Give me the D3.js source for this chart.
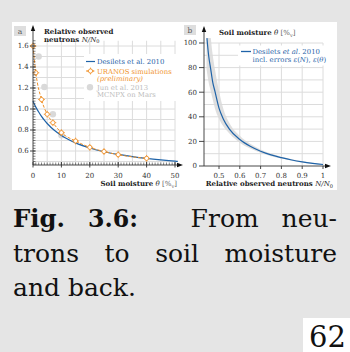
<!DOCTYPE html>
<html><head><meta charset="utf-8">
<script src="https://cdn.jsdelivr.net/npm/d3@7"></script>
<style>
html,body{margin:0;padding:0;background:#e5e5e5;}
svg{display:block;}
</style></head><body>
<svg id="c" width="350" height="352"></svg>
<script>
// ---------- data ----------
// Panel a: Desilets et al. 2010 curve
const desTheta = [0, 1, 2, 3, 4, 5, 7.5, 10, 12.5, 15, 20, 25, 30, 35, 40, 45, 50, 51];
const desN     = [1.075, 1.018, 0.971, 0.929, 0.893, 0.862, 0.797, 0.748, 0.709, 0.677, 0.629, 0.593, 0.567, 0.546, 0.529, 0.515, 0.503, 0.501];
// Panel a: URANOS simulations (preliminary)
const uranosTheta = [0, 1, 3, 5, 7, 10, 15, 20, 25, 30, 40];
const uranosN     = [1.60, 1.345, 1.09, 0.95, 0.87, 0.775, 0.695, 0.635, 0.595, 0.565, 0.53];
// Panel a: Jun et al. 2013 MCNPX on Mars
const junTheta = [2, 4, 7, 10];
const junN     = [1.50, 1.21, 0.95, 0.75];
// Panel b: soil moisture from relative neutrons, with error band
const bN      = [0.442, 0.45, 0.46, 0.47, 0.48, 0.50, 0.52, 0.55, 0.60, 0.65, 0.70, 0.75, 0.80, 0.85, 0.90, 0.95, 1.00];
const bTheta  = [104, 90, 79, 68, 61, 47, 38.5, 30, 21.5, 16, 12, 9, 6.8, 4.9, 3.4, 2.2, 1.2];
const bandN   = [0.44, 0.45, 0.46, 0.47, 0.48, 0.50, 0.52, 0.55, 0.60, 0.65, 0.70, 0.75, 0.80, 0.85, 0.90, 0.95, 1.00];
const bandUp  = [140, 125, 105, 90, 79, 61, 47, 35, 24.5, 18, 13.5, 10.2, 7.6, 5.5, 3.9, 2.6, 1.6];
const bandLo  = [79, 68, 61, 54, 47, 38.5, 32.5, 26.5, 19, 14.3, 10.8, 8.0, 6.0, 4.3, 2.9, 1.8, 0.9];
// ticks
const aXTicks = [0, 10, 20, 30, 40, 50];
const aYTicks = [0.6, 0.8, 1.0, 1.2, 1.4, 1.6];
const bXTicks = [0.5, 0.6, 0.7, 0.8, 0.9, 1.0];
const bXLabels = ["0.5", "0.6", "0.7", "0.8", "0.9", "1"];
const bYTicks = [0, 20, 40, 60, 80, 100];

// ---------- styles ----------
const BLUE = "#1f63a8", ORANGE = "#f0922b", GRAYDOT = "#d9d9d9", GRID = "#dcdcdc", AX = "#333";
const FONT = "'DejaVu Serif', serif";
const FS = 7;      // small chart text
const FSL = 6.9;   // legend text

const svg = d3.select("#c");
svg.append("rect").attr("x", 0).attr("y", 0).attr("width", 350).attr("height", 352).attr("fill", "#e5e5e5");
svg.append("rect").attr("x", 12).attr("y", 22).attr("width", 325).attr("height", 168).attr("fill", "#fff");

// ---------- scales ----------
const xA = d3.scaleLinear().domain([0, 50]).range([33, 175]);
const yA = d3.scaleLinear().domain([0.6, 1.6]).range([151, 46]);
const xB = d3.scaleLinear().domain([0.5, 1.0]).range([219, 323]);
const yB = d3.scaleLinear().domain([0, 100]).range([166, 43]);

function arrowUp(g, x, y) { g.append("path").attr("d", `M${x},${y} L${x-2.2},${y+6} L${x+2.2},${y+6} Z`).attr("fill", "#111"); }
function arrowRight(g, x, y) { g.append("path").attr("d", `M${x},${y} L${x-6},${y-2.2} L${x-6},${y+2.2} Z`).attr("fill", "#111"); }

// ================= Panel a =================
const gA = svg.append("g");
const aGridX = d3.range(5, 50.1, 5);
const aGridY = d3.range(0.5, 1.61, 0.1);
gA.selectAll(".gx").data(aGridX).join("line")
  .attr("x1", d => xA(d)).attr("x2", d => xA(d)).attr("y1", yA(0.467)).attr("y2", yA(1.65))
  .attr("stroke", GRID).attr("stroke-width", 1);
gA.selectAll(".gy").data(aGridY).join("line")
  .attr("x1", xA(0)).attr("x2", xA(50)).attr("y1", d => yA(d)).attr("y2", d => yA(d))
  .attr("stroke", GRID).attr("stroke-width", 1);

// legend background (white, hides grid)
gA.append("rect").attr("x", 84).attr("y", 54).attr("width", 92).attr("height", 47).attr("fill", "#fff");

// Jun dots
gA.selectAll(".jun").data(junTheta).join("circle")
  .attr("cx", d => xA(d)).attr("cy", (d, i) => yA(junN[i])).attr("r", 3.2).attr("fill", GRAYDOT);

// Desilets line
const lineA = d3.line().x(d => xA(d[0])).y(d => yA(d[1])).curve(d3.curveMonotoneX);
gA.append("path").datum(desTheta.map((t, i) => [t, desN[i]]))
  .attr("d", lineA).attr("fill", "none").attr("stroke", BLUE).attr("stroke-width", 1.2);

// URANOS dashed line + markers
gA.append("path").datum(uranosTheta.map((t, i) => [t, uranosN[i]]))
  .attr("d", lineA).attr("fill", "none").attr("stroke", ORANGE).attr("stroke-width", 1).attr("stroke-dasharray", "3,1.6");
function marker(g, cx, cy) {
  const r = 2.1;
  g.append("circle").attr("cx", cx).attr("cy", cy).attr("r", r).attr("fill", "#fff").attr("stroke", ORANGE).attr("stroke-width", 0.9);
  [[0, -1], [0, 1], [-1, 0], [1, 0]].forEach(([dx, dy]) => {
    g.append("line").attr("x1", cx + dx * r).attr("y1", cy + dy * r).attr("x2", cx + dx * (r + 1.3)).attr("y2", cy + dy * (r + 1.3))
      .attr("stroke", ORANGE).attr("stroke-width", 0.9);
  });
}
uranosTheta.forEach((t, i) => marker(gA, xA(t), yA(uranosN[i])));

// axes
gA.append("line").attr("x1", 33).attr("x2", 33).attr("y1", 165).attr("y2", 30).attr("stroke", AX).attr("stroke-width", 0.9);
arrowUp(gA, 33, 25);
gA.append("line").attr("x1", 33).attr("x2", 178).attr("y1", 165).attr("y2", 165).attr("stroke", AX).attr("stroke-width", 0.9);
arrowRight(gA, 183, 165);
gA.selectAll(".mx").data(d3.range(1, 50.1, 1)).join("line")
  .attr("x1", d => xA(d)).attr("x2", d => xA(d)).attr("y1", 165).attr("y2", 162.5).attr("stroke", AX).attr("stroke-width", 0.6);
gA.selectAll(".my").data(d3.range(0.475, 1.66, 0.025)).join("line")
  .attr("x1", 33).attr("x2", 35.5).attr("y1", d => yA(d)).attr("y2", d => yA(d)).attr("stroke", AX).attr("stroke-width", 0.6);
gA.selectAll(".tx").data(aXTicks).join("line")
  .attr("x1", d => xA(d)).attr("x2", d => xA(d)).attr("y1", 162).attr("y2", 167.5).attr("stroke", AX).attr("stroke-width", 0.9);
gA.selectAll(".lx").data(aXTicks).join("text")
  .attr("x", d => xA(d)).attr("y", 177.8).attr("text-anchor", "middle")
  .attr("font-family", FONT).attr("font-size", FS).attr("fill", AX).text(d => d);
gA.selectAll(".ty").data(aYTicks).join("line")
  .attr("x1", 30).attr("x2", 35.5).attr("y1", d => yA(d)).attr("y2", d => yA(d)).attr("stroke", AX).attr("stroke-width", 0.9);
gA.selectAll(".ly").data(aYTicks).join("text")
  .attr("x", 28.8).attr("y", d => yA(d) + 2.4).attr("text-anchor", "end")
  .attr("font-family", FONT).attr("font-size", FS).attr("fill", AX).text(d => d3.format(".1f")(d));

// panel label a
gA.append("rect").attr("x", 14).attr("y", 26).attr("width", 12).attr("height", 10).attr("fill", "#dedede");
gA.append("text").attr("x", 20).attr("y", 33.5).attr("text-anchor", "middle").attr("font-family", FONT).attr("font-size", 7.5).attr("fill", "#555").text("a");

// y title a
gA.append("text").attr("x", 44).attr("y", 34).attr("font-family", FONT).attr("font-size", FS).attr("font-weight", "bold").attr("fill", "#222").text("Relative observed");
const tA2 = gA.append("text").attr("x", 44).attr("y", 41.5).attr("font-family", FONT).attr("font-size", FS).attr("fill", "#222");
tA2.append("tspan").attr("font-weight", "bold").text("neutrons ");
tA2.append("tspan").attr("font-style", "italic").text("N/N");
tA2.append("tspan").attr("font-size", 5).attr("dy", 1.5).text("0");

// legend a
gA.append("line").attr("x1", 86).attr("x2", 95).attr("y1", 61.5).attr("y2", 61.5).attr("stroke", BLUE).attr("stroke-width", 1.2);
gA.append("text").attr("x", 97).attr("y", 64).attr("font-family", FONT).attr("font-size", FSL).attr("fill", BLUE).text("Desilets et al. 2010");
gA.append("line").attr("x1", 86).attr("x2", 95).attr("y1", 71).attr("y2", 71).attr("stroke", ORANGE).attr("stroke-width", 1).attr("stroke-dasharray", "2,1.2");
marker(gA, 90.5, 71);
gA.append("text").attr("x", 97).attr("y", 73.6).attr("font-family", FONT).attr("font-size", FSL).attr("fill", ORANGE).text("URANOS simulations");
gA.append("text").attr("x", 97).attr("y", 80.8).attr("font-family", FONT).attr("font-size", FSL).attr("font-style", "italic").attr("fill", ORANGE).text("(preliminary)");
gA.append("circle").attr("cx", 90).attr("cy", 87.3).attr("r", 3.2).attr("fill", GRAYDOT);
gA.append("text").attr("x", 97).attr("y", 89.8).attr("font-family", FONT).attr("font-size", FSL).attr("fill", "#bbb").text("Jun et al. 2013");
gA.append("text").attr("x", 97).attr("y", 97).attr("font-family", FONT).attr("font-size", FSL).attr("fill", "#bbb").text("MCNPX on Mars");

// x title a
const tAx = gA.append("text").attr("x", 177).attr("y", 186).attr("text-anchor", "end").attr("font-family", FONT).attr("font-size", FS).attr("fill", "#222");
tAx.append("tspan").attr("font-weight", "bold").text("Soil moisture ");
tAx.append("tspan").attr("font-style", "italic").text("θ");
tAx.append("tspan").attr("fill", "#666").text(" [%");
tAx.append("tspan").attr("fill", "#666").attr("font-size", 5).attr("dy", 1.5).text("v");
tAx.append("tspan").attr("fill", "#666").attr("dy", -1.5).text("]");

// ================= Panel b =================
const gB = svg.append("g");
const bGridX = d3.range(0.5, 1.001, 0.1);
const bGridY = d3.range(10, 100.1, 10);
gB.selectAll(".gx").data(bGridX).join("line")
  .attr("x1", d => xB(d)).attr("x2", d => xB(d)).attr("y1", yB(0)).attr("y2", yB(100))
  .attr("stroke", GRID).attr("stroke-width", 1);
gB.selectAll(".gy").data(bGridY).join("line")
  .attr("x1", 204).attr("x2", xB(1)).attr("y1", d => yB(d)).attr("y2", d => yB(d))
  .attr("stroke", GRID).attr("stroke-width", 1);

svg.append("clipPath").attr("id", "clipB").append("rect")
  .attr("x", 204).attr("y", yB(104)).attr("width", 130).attr("height", yB(0) - yB(104) + 2);

const area = d3.area().x(d => xB(d[0])).y0(d => yB(d[1])).y1(d => yB(d[2])).curve(d3.curveMonotoneX);
gB.append("path").datum(bandN.map((n, i) => [n, bandLo[i], bandUp[i]]))
  .attr("d", area).attr("fill", "#d9d9d9").attr("opacity", 0.85).attr("clip-path", "url(#clipB)");
const lineB = d3.line().x(d => xB(d[0])).y(d => yB(d[1])).curve(d3.curveMonotoneX);
gB.append("path").datum(bN.map((n, i) => [n, bTheta[i]]))
  .attr("d", lineB).attr("fill", "none").attr("stroke", BLUE).attr("stroke-width", 1.2).attr("clip-path", "url(#clipB)");

// legend b
gB.append("rect").attr("x", 238).attr("y", 45.5).attr("width", 95).attr("height", 20).attr("fill", "#fff");
gB.append("line").attr("x1", 241).attr("x2", 251).attr("y1", 51.5).attr("y2", 51.5).attr("stroke", BLUE).attr("stroke-width", 1.3);
const lb1 = gB.append("text").attr("x", 252.5).attr("y", 54).attr("font-family", FONT).attr("font-size", FSL).attr("fill", BLUE);
lb1.append("tspan").text("Desilets ");
lb1.append("tspan").attr("font-style", "italic").text("et al.");
lb1.append("tspan").text(" 2010");
const lb2 = gB.append("text").attr("x", 252.5).attr("y", 61.5).attr("font-family", FONT).attr("font-size", FSL).attr("fill", BLUE);
lb2.append("tspan").text("incl. errors ");
lb2.append("tspan").attr("font-style", "italic").text("ε");
lb2.append("tspan").text("(");
lb2.append("tspan").attr("font-style", "italic").text("N");
lb2.append("tspan").text("), ");
lb2.append("tspan").attr("font-style", "italic").text("ε");
lb2.append("tspan").text("(");
lb2.append("tspan").attr("font-style", "italic").text("θ");
lb2.append("tspan").text(")");

// axes b
gB.append("line").attr("x1", 204).attr("x2", 204).attr("y1", 166).attr("y2", 31).attr("stroke", AX).attr("stroke-width", 0.9);
arrowUp(gB, 204, 26);
gB.append("line").attr("x1", 204).attr("x2", 326).attr("y1", 166).attr("y2", 166).attr("stroke", AX).attr("stroke-width", 0.9);
arrowRight(gB, 331, 166);
gB.selectAll(".tx").data(bXTicks).join("line")
  .attr("x1", d => xB(d)).attr("x2", d => xB(d)).attr("y1", 166).attr("y2", 169).attr("stroke", AX).attr("stroke-width", 0.9);
gB.selectAll(".lx").data(bXTicks).join("text")
  .attr("x", d => xB(d)).attr("y", 177.8).attr("text-anchor", "middle")
  .attr("font-family", FONT).attr("font-size", FS).attr("fill", AX).text((d, i) => bXLabels[i]);
gB.selectAll(".ty").data(bYTicks).join("line")
  .attr("x1", 199).attr("x2", 204).attr("y1", d => yB(d)).attr("y2", d => yB(d)).attr("stroke", AX).attr("stroke-width", 0.9);
gB.selectAll(".ly").data(bYTicks).join("text")
  .attr("x", 197).attr("y", d => yB(d) + 2.4).attr("text-anchor", "end")
  .attr("font-family", FONT).attr("font-size", FS).attr("fill", AX).text(d => d);

// panel label b
gB.append("rect").attr("x", 184).attr("y", 25).attr("width", 12).attr("height", 10).attr("fill", "#dedede");
gB.append("text").attr("x", 190).attr("y", 32.5).attr("text-anchor", "middle").attr("font-family", FONT).attr("font-size", 7.5).attr("fill", "#555").text("b");

// y title b
const tB = gB.append("text").attr("x", 219).attr("y", 35).attr("font-family", FONT).attr("font-size", FS).attr("fill", "#222");
tB.append("tspan").attr("font-weight", "bold").text("Soil moisture ");
tB.append("tspan").attr("font-style", "italic").text("θ");
tB.append("tspan").attr("fill", "#666").text(" [%");
tB.append("tspan").attr("fill", "#666").attr("font-size", 5).attr("dy", 1.5).text("v");
tB.append("tspan").attr("fill", "#666").attr("dy", -1.5).text("]");

// x title b
const tBx = gB.append("text").attr("x", 333).attr("y", 186).attr("text-anchor", "end").attr("font-family", FONT).attr("font-size", FS).attr("fill", "#222");
tBx.append("tspan").attr("font-weight", "bold").text("Relative observed neutrons ");
tBx.append("tspan").attr("font-style", "italic").text("N/N");
tBx.append("tspan").attr("font-size", 5).attr("dy", 1.5).text("0");

// ================= Caption =================
const CFS = 25;
function justifyLine(words, y, x0, x1, weights) {
  const els = words.map(w => {
    const e = svg.append("text").attr("y", y).attr("font-family", FONT).attr("font-size", CFS)
      .attr("font-weight", w.bold ? "bold" : "normal").attr("fill", "#111").text(w.t);
    if (w.len) e.attr("textLength", w.len).attr("lengthAdjust", "spacingAndGlyphs");
    return e;
  });
  const widths = els.map((e, i) => words[i].len || e.node().getComputedTextLength());
  const gap = (x1 - x0 - d3.sum(widths)) / d3.sum(weights);
  let x = x0;
  els.forEach((e, i) => { e.attr("x", x); x += widths[i] + (i < weights.length ? gap * weights[i] : 0); });
}
justifyLine([{t: "Fig.", bold: true, len: 52}, {t: "3.6:", bold: true, len: 50}, {t: "From"}, {t: "neu-"}], 227, 13, 337, [1, 2.3, 1]);
justifyLine([{t: "trons"}, {t: "to"}, {t: "soil"}, {t: "moisture"}], 262, 13, 337, [1, 1, 1]);
svg.append("text").attr("x", 13).attr("y", 296).attr("font-family", FONT).attr("font-size", CFS).attr("fill", "#111").text("and back.");

// page number
svg.append("rect").attr("x", 303).attr("y", 318).attr("width", 47).attr("height", 34).attr("fill", "#fff");
svg.append("text").attr("x", 346).attr("y", 346.5).attr("text-anchor", "end").attr("font-family", FONT).attr("font-size", 29).attr("fill", "#111").text("62");
</script>
</body></html>
